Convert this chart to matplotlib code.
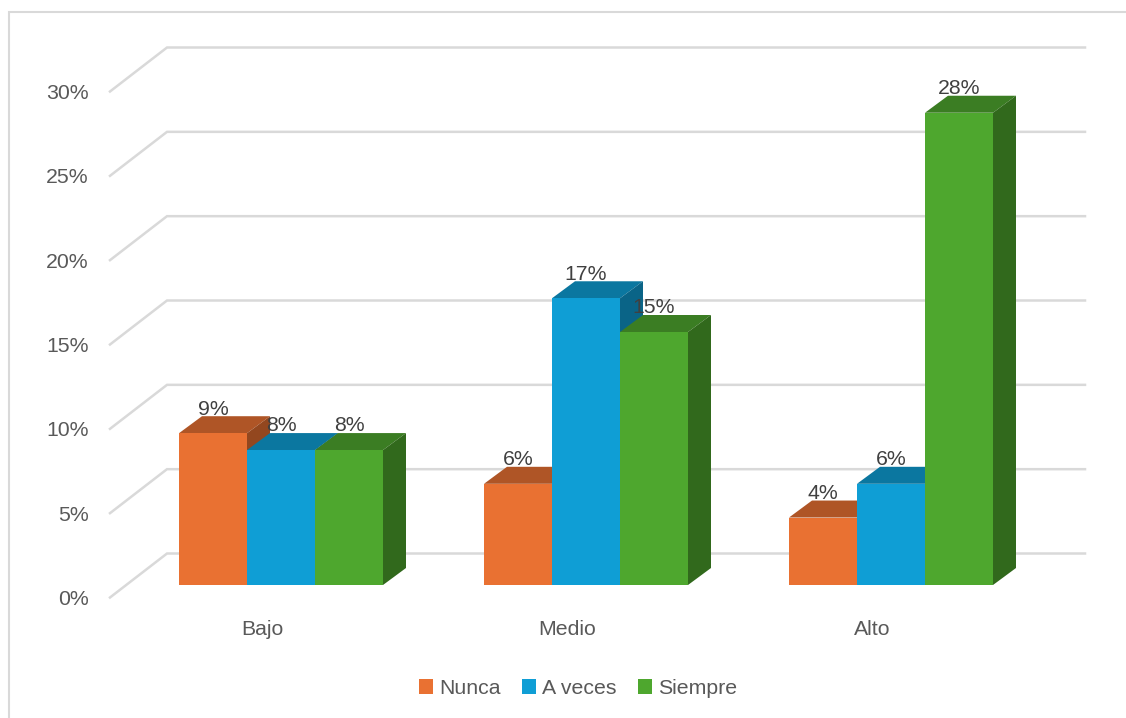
import numpy as np
from matplotlib import pyplot as plt
from matplotlib.lines import Line2D
from matplotlib.patches import Patch, Polygon

categories = ['Bajo', 'Medio', 'Alto']
series_names = ['Nunca', 'A veces', 'Siempre']
nunca = [9, 6, 4]
a_veces = [8, 17, 6]
siempre = [8, 15, 28]
y_ticks = [0, 5, 10, 15, 20, 25, 30]

# front, top and side colours of each series
front_colors = ['#E97132', '#0F9ED5', '#4EA72E']
top_colors = ['#AF5526', '#0B77A0', '#3B7D23']
side_colors = ['#93471F', '#0A6487', '#31691C']

W, H = 1126, 718
PX_X = 305.0    # pixels per category
PX_Y = 16.87    # pixels per percent

plt.rcParams['font.family'] = ['Liberation Sans', 'DejaVu Sans']

fig = plt.figure(figsize=(W / 100, H / 100), dpi=100)
ax = fig.add_axes([110 / W, (H - 597.5) / H, (1085 - 110) / W, (597 - 91) / H])
ax.set_xlim((110 - 281) / PX_X, (1085 - 281) / PX_X)
ax.set_ylim(0, 30)
for s in ax.spines.values():
    s.set_visible(False)

# walls: the grid sits on the back wall, with a diagonal to the front edge
wall_dx = 57 / PX_X
wall_dy = 44 / PX_Y
x0, x1 = ax.get_xlim()
for t in y_ticks:
    ax.plot([x0, x0 + wall_dx, x1], [t, t + wall_dy, t + wall_dy], color='#D9D9D9',
            lw=1.8, clip_on=False, zorder=1, solid_joinstyle='miter')

# bars, in the floor's middle depth
floor = 12.5 / PX_Y
width = 68 / PX_X
dx = 23 / PX_X
dy = 17 / PX_Y
positions = np.arange(len(categories))
all_values = [nunca, a_veces, siempre]

z = 2
for i in positions:
    for j, values in enumerate(all_values):
        left = i + (j - 1.5) * width
        right = left + width
        v = values[i]
        top = floor + v
        ax.bar(left, v, width=width, bottom=floor, align='edge', color=front_colors[j],
               clip_on=False, zorder=z + 0.2)
        ax.add_patch(Polygon([(left, top), (left + dx, top + dy), (right + dx, top + dy), (right, top)],
                             closed=True, facecolor=top_colors[j], lw=0, clip_on=False, zorder=z))
        ax.add_patch(Polygon([(right, floor), (right + dx, floor + dy), (right + dx, top + dy), (right, top)],
                             closed=True, facecolor=side_colors[j], lw=0, clip_on=False, zorder=z + 0.1))
        z += 1

# data labels go over every bar
for i in positions:
    for j, values in enumerate(all_values):
        ax.text(i + (j - 1) * width, floor + values[i] + dy + 0.42, '%d%%' % values[i],
                ha='center', va='center', fontsize=15.3, color='#404040', zorder=100)

ax.set_yticks(y_ticks)
ax.set_yticklabels(['%d%%' % t for t in y_ticks])
ax.set_xticks(positions - 19 / PX_X)
ax.set_xticklabels(categories)
ax.tick_params(axis='y', length=0, pad=15.5, labelsize=15.3, labelcolor='#595959')
ax.tick_params(axis='x', length=0, pad=16, labelsize=15.3, labelcolor='#595959')

handles = [Patch(facecolor=c, edgecolor='none') for c in front_colors]
fig.legend(handles, series_names, ncol=3, loc='center', bbox_to_anchor=(578 / W, (H - 688.5) / H),
           frameon=False, fontsize=15.3, labelcolor='#595959', handlelength=0.67, handleheight=0.67,
           handletextpad=0.27, columnspacing=1.0, borderpad=0, borderaxespad=0)

# chart border, cut off by the picture on the right and at the bottom
fig.add_artist(Line2D([9 / W, 9 / W, 1], [0, (H - 12) / H, (H - 12) / H],
                      color='#D9D9D9', lw=1.5, solid_joinstyle='miter'))

fig.savefig('out.png', dpi=100)
